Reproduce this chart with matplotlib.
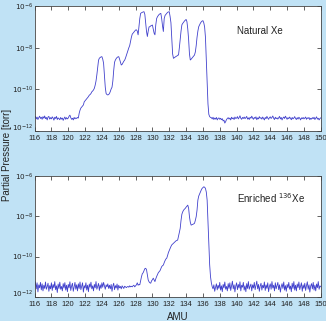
import numpy as np
import matplotlib
matplotlib.use("Agg")
import matplotlib.pyplot as plt
import matplotlib.transforms as mtransforms

plt.rcParams['font.family'] = ['Liberation Sans Narrow', 'Liberation Sans', 'DejaVu Sans']
plt.rcParams['mathtext.fontset'] = 'custom'
plt.rcParams['mathtext.rm'] = 'Liberation Sans Narrow'
plt.rcParams['mathtext.it'] = 'Liberation Sans Narrow'

# mass scan, 0.1 AMU steps from 116 to 150
amu = np.round(np.arange(116.0, 150.05, 0.1), 1)

# log10 partial pressure [torr], one row per AMU (x.0 .. x.9)
natural_log = [
    -11.38, -11.30, -11.42, -11.33, -11.45, -11.36, -11.29, -11.40, -11.34, -11.44,  # 116
    -11.31, -11.39, -11.28, -11.41, -11.35, -11.47, -11.33, -11.30, -11.43, -11.36,  # 117
    -11.42, -11.32, -11.38, -11.48, -11.34, -11.40, -11.30, -11.45, -11.37, -11.41,  # 118
    -11.46, -11.35, -11.43, -11.38, -11.49, -11.40, -11.33, -11.44, -11.36, -11.42,  # 119
    -11.38, -11.29, -11.24, -11.36, -11.44, -11.39, -11.47, -11.35, -11.42, -11.37,  # 120
    -11.40, -11.35, -11.38, -11.15, -11.00, -10.90, -10.85, -10.80, -10.75, -10.60,  # 121
    -10.55, -10.50, -10.45, -10.40, -10.35, -10.28, -10.25, -10.20, -10.12, -10.08,  # 122
    -10.03, -9.95, -9.80, -9.60, -9.30, -8.95, -8.60, -8.50, -8.47, -8.44,  # 123
    -8.43, -8.55, -8.75, -9.30, -9.90, -10.20, -10.25, -10.27, -10.25, -10.20,  # 124
    -10.10, -9.98, -9.90, -9.60, -9.10, -8.70, -8.59, -8.52, -8.47, -8.44,  # 125
    -8.43, -8.55, -8.70, -8.83, -8.80, -8.72, -8.65, -8.60, -8.50, -8.38,  # 126
    -8.25, -8.12, -8.00, -7.90, -7.70, -7.50, -7.35, -7.30, -7.25, -7.20,  # 127
    -7.15, -7.14, -7.20, -7.38, -7.00, -6.60, -6.35, -6.32, -6.30, -6.28,  # 128
    -6.27, -6.40, -6.80, -7.22, -7.46, -7.20, -7.00, -6.99, -6.95, -6.93,  # 129
    -6.91, -7.10, -7.30, -7.38, -6.90, -6.60, -6.51, -6.45, -6.40, -6.37,  # 130
    -6.35, -6.60, -6.95, -7.22, -6.60, -6.45, -6.40, -6.35, -6.30, -6.28,  # 131
    -6.27, -6.50, -6.80, -7.60, -8.30, -8.51, -8.48, -8.45, -8.42, -8.40,  # 132
    -8.36, -8.35, -8.00, -7.60, -7.20, -6.90, -6.83, -6.78, -6.72, -6.68,  # 133
    -6.64, -6.75, -7.10, -7.60, -8.30, -8.59, -8.55, -8.50, -8.45, -8.40,  # 134
    -8.35, -8.20, -7.90, -7.50, -7.20, -6.99, -6.90, -6.82, -6.76, -6.72,  # 135
    -6.70, -6.80, -7.00, -7.50, -8.60, -9.80, -10.70, -11.20, -11.31, -11.35,  # 136
    -11.36, -11.42, -11.34, -11.45, -11.38, -11.43, -11.35, -11.47, -11.40, -11.37,  # 137
    -11.44, -11.39, -11.46, -11.41, -11.52, -11.48, -11.62, -11.55, -11.45, -11.40,  # 138
    -11.36, -11.43, -11.38, -11.47, -11.34, -11.41, -11.37, -11.45, -11.33, -11.40,  # 139
    -11.38, -11.31, -11.42, -11.36, -11.27, -11.39, -11.44, -11.35, -11.40, -11.33,  # 140
    -11.41, -11.36, -11.30, -11.43, -11.37, -11.45, -11.34, -11.39, -11.29, -11.38,  # 141
    -11.44, -11.35, -11.40, -11.32, -11.46, -11.37, -11.42, -11.31, -11.39, -11.36,  # 142
    -11.43, -11.33, -11.40, -11.47, -11.35, -11.41, -11.30, -11.38, -11.44, -11.36,  # 143
    -11.32, -11.40, -11.35, -11.28, -11.39, -11.45, -11.34, -11.41, -11.37, -11.43,  # 144
    -11.36, -11.30, -11.42, -11.35, -11.47, -11.38, -11.33, -11.40, -11.29, -11.37,  # 145
    -11.44, -11.36, -11.41, -11.33, -11.39, -11.46, -11.35, -11.42, -11.38, -11.31,  # 146
    -11.40, -11.45, -11.36, -11.43, -11.34, -11.39, -11.47, -11.37, -11.41, -11.35,  # 147
    -11.42, -11.38, -11.33, -11.44, -11.37, -11.40, -11.35, -11.46, -11.39, -11.43,  # 148
    -11.36, -11.41, -11.34, -11.45, -11.38, -11.32, -11.43, -11.39, -11.47, -11.40,  # 149
    -11.37,  # 150
]

enriched_log = [
    -11.45, -11.25, -11.60, -11.30, -11.75, -11.40, -11.55, -11.28, -11.65, -11.35,  # 116
    -11.70, -11.42, -11.58, -11.26, -11.62, -11.50, -11.32, -11.72, -11.44, -11.60,  # 117
    -11.30, -11.68, -11.38, -11.55, -11.24, -11.64, -11.45, -11.78, -11.36, -11.58,  # 118
    -11.27, -11.62, -11.48, -11.70, -11.34, -11.56, -11.29, -11.66, -11.42, -11.74,  # 119
    -11.38, -11.55, -11.25, -11.68, -11.46, -11.32, -11.72, -11.50, -11.28, -11.62,  # 120
    -11.40, -11.70, -11.35, -11.58, -11.26, -11.64, -11.48, -11.30, -11.76, -11.44,  # 121
    -11.56, -11.30, -11.66, -11.42, -11.74, -11.36, -11.52, -11.27, -11.60, -11.45,  # 122
    -11.70, -11.38, -11.55, -11.24, -11.62, -11.48, -11.33, -11.68, -11.40, -11.58,  # 123
    -11.30, -11.52, -11.28, -11.45, -11.62, -11.40, -11.50, -11.35, -11.58, -11.42,  # 124
    -11.60, -11.38, -11.72, -11.46, -11.32, -11.64, -11.44, -11.56, -11.36, -11.66,  # 125
    -11.42, -11.55, -11.48, -11.60, -11.45, -11.52, -11.58, -11.47, -11.50, -11.54,  # 126
    -11.50, -11.48, -11.52, -11.45, -11.50, -11.47, -11.50, -11.45, -11.42, -11.50,  # 127
    -11.45, -11.40, -11.30, -11.42, -11.38, -11.40, -11.20, -11.00, -10.85, -10.80,  # 128
    -10.70, -10.60, -10.58, -10.65, -10.90, -11.16, -11.25, -11.30, -11.32, -11.20,  # 129
    -11.15, -11.07, -11.15, -11.24, -11.10, -10.99, -10.90, -10.80, -10.75, -10.70,  # 130
    -10.60, -10.50, -10.45, -10.42, -10.30, -10.20, -10.12, -10.08, -9.95, -9.80,  # 131
    -9.70, -9.59, -9.50, -9.42, -9.38, -9.34, -9.30, -9.26, -9.22, -9.20,  # 132
    -9.18, -9.00, -8.80, -8.60, -8.20, -7.90, -7.78, -7.70, -7.65, -7.61,  # 133
    -7.55, -7.50, -7.45, -7.60, -8.02, -8.30, -8.44, -8.42, -8.40, -8.38,  # 134
    -8.35, -8.20, -8.02, -7.70, -7.20, -7.00, -6.90, -6.79, -6.70, -6.62,  # 135
    -6.58, -6.54, -6.56, -6.62, -6.80, -7.20, -8.30, -9.51, -10.40, -10.99,  # 136
    -11.30, -11.49, -11.60, -11.40, -11.72, -11.52, -11.35, -11.65, -11.42, -11.58,  # 137
    -11.28, -11.66, -11.45, -11.74, -11.38, -11.55, -11.26, -11.62, -11.48, -11.70,  # 138
    -11.34, -11.58, -11.30, -11.68, -11.44, -11.22, -11.60, -11.40, -11.75, -11.46,  # 139
    -11.30, -11.64, -11.38, -11.56, -11.25, -11.70, -11.42, -11.52, -11.28, -11.66,  # 140
    -11.45, -11.74, -11.34, -11.58, -11.24, -11.62, -11.48, -11.36, -11.70, -11.40,  # 141
    -11.56, -11.28, -11.64, -11.44, -11.22, -11.60, -11.38, -11.72, -11.46, -11.32,  # 142
    -11.66, -11.42, -11.55, -11.26, -11.68, -11.40, -11.58, -11.30, -11.74, -11.48,  # 143
    -11.35, -11.62, -11.24, -11.56, -11.42, -11.70, -11.30, -11.60, -11.45, -11.28,  # 144
    -11.64, -11.40, -11.76, -11.50, -11.34, -11.58, -11.26, -11.66, -11.44, -11.72,  # 145
    -11.38, -11.55, -11.28, -11.62, -11.46, -11.74, -11.32, -11.58, -11.24, -11.66,  # 146
    -11.42, -11.70, -11.36, -11.54, -11.26, -11.64, -11.48, -11.30, -11.72, -11.40,  # 147
    -11.58, -11.32, -11.68, -11.44, -11.25, -11.62, -11.40, -11.76, -11.46, -11.34,  # 148
    -11.60, -11.28, -11.66, -11.42, -11.70, -11.36, -11.54, -11.24, -11.62, -11.45,  # 149
    -11.50,  # 150
]

xticks = list(range(116, 151, 2))
yticks = [1e-12, 1e-10, 1e-8, 1e-6]
ytick_labels = [r'$10^{-12}$', r'$10^{-10}$', r'$10^{-8}$', r'$10^{-6}$']

bg = '#c0e2f5'
line_col = '#4040cc'

fig = plt.figure(figsize=(3.26, 3.21), dpi=100, facecolor=bg)
ax1 = fig.add_axes([0.106, 0.592, 0.878, 0.389])
ax2 = fig.add_axes([0.106, 0.075, 0.878, 0.377])

panels = [(ax1, natural_log, 'Natural Xe'),
          (ax2, enriched_log, r'Enriched $^{136}$Xe')]

# nudge the bottom decade label up so it clears the first AMU label
lift = mtransforms.ScaledTranslation(0, 3 / 72, fig.dpi_scale_trans)

for ax, vals, label in panels:
    ax.semilogy(amu, 10.0 ** np.array(vals), color=line_col, lw=0.6)
    ax.set_xlim(116, 150)
    ax.set_ylim(1e-12, 1e-6)
    ax.set_xticks(xticks)
    ax.set_xticklabels([str(t) for t in xticks])
    ax.set_yticks(yticks)
    ax.set_yticklabels(ytick_labels, va='center_baseline')
    ax.minorticks_off()
    ax.tick_params(direction='in', top=True, right=True, length=3, width=0.5,
                   labelsize=5.5, pad=2.8, colors='#222222')
    ax.tick_params(axis='y', labelsize=5.2, pad=1)
    low = ax.get_yticklabels()[0]
    low.set_transform(low.get_transform() + lift)
    for s in ax.spines.values():
        s.set_linewidth(0.6)
        s.set_color('#444444')
    ax.text(0.707, 0.78, label, transform=ax.transAxes, fontsize=7, color='#222222')

fig.text(0.022, 0.517, 'Partial Pressure [torr]', rotation=90, ha='center', va='center',
         fontsize=7, color='#222222')
fig.text(0.545, 0.012, 'AMU', ha='center', va='center', fontsize=7, color='#222222')

fig.savefig('out.png', dpi=100, facecolor=bg)
